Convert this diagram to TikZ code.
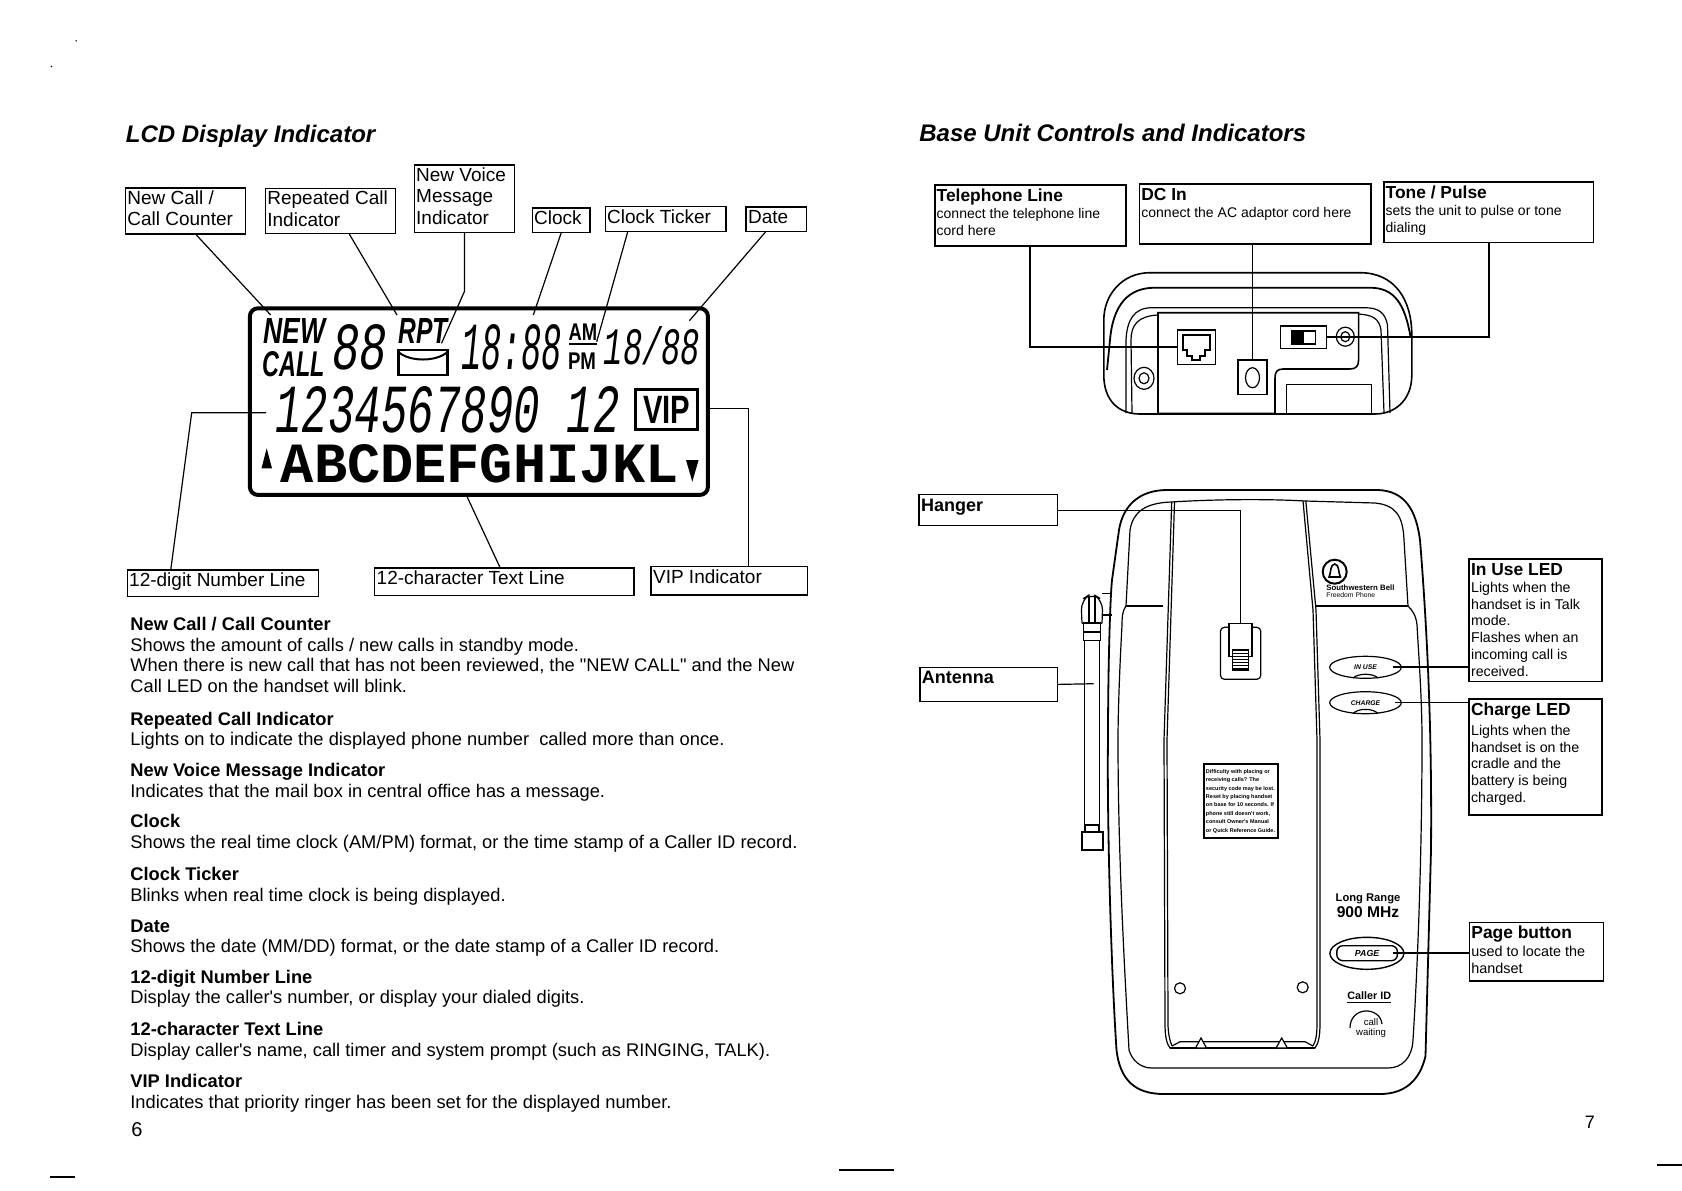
\documentclass[tikz,border=0pt]{standalone}
\usepackage{fontspec}
\setmainfont{Liberation Sans}[Ligatures=TeXOff]
\setmonofont{Liberation Mono}
\usetikzlibrary{shapes.geometric}

\newcommand{\bodyfont}{\fontsize{9.15}{10.3}\selectfont}
\newcommand{\labelfont}{\fontsize{9.5}{10.7}\selectfont}
\newcommand{\headfont}{\fontsize{8.7}{10}\selectfont\bfseries}
\newcommand{\notefont}{\fontsize{7}{8.6}\selectfont}
% text box of given size in reference pixels, text at the top
\newcommand{\boxtxt}[3]{\parbox[t][\dimexpr #2pt/2\relax][t]{\dimexpr #1pt/2\relax}{\raggedright\leftskip=1pt\vrule width 0pt height 8.2pt\relax #3}}
\newcommand{\lcdtxt}[3]{\resizebox{#1pt}{#2pt}{#3}}

\tikzset{
  labelbox/.style={draw, line width=0.7pt, inner sep=0pt, anchor=north west, font=\labelfont},
  notebox/.style={draw, line width=0.8pt, inner sep=0pt, anchor=north west, font=\notefont},
  sectext/.style={inner sep=0pt, anchor=north west, align=left, font=\bodyfont},
  lcdglyph/.style={inner sep=0pt},
  wire/.style={line width=0.6pt},
  heavywire/.style={line width=1pt},
  unitline/.style={line width=0.6pt},
  oval/.style={ellipse, draw, line width=0.6pt, inner sep=0pt, minimum width=35.8pt, minimum height=11pt, font=\fontsize{3.4}{4}\selectfont\bfseries\itshape}
}

\begin{document}
\begin{tikzpicture}[x=0.5pt,y=-0.5pt]
\useasboundingbox (0,0) rectangle (1682,1190);

% Page titles
\node[inner sep=0pt, anchor=west, font=\fontsize{12}{14}\selectfont\bfseries\itshape] (lcdtitle) at (125.5,136) {LCD Display Indicator};
\node[inner sep=0pt, anchor=west, font=\fontsize{12}{14}\selectfont\bfseries\itshape] (basetitle) at (919,133) {Base Unit Controls and Indicators};

% LCD panel
\node[draw, line width=2pt, rounded corners=4pt, minimum width=229pt, minimum height=93.3pt] (lcd) at (478.9,401.6) {};
\node[lcdglyph] (lcdnew) at (294.8,330.8) {\lcdtxt{31}{12.5}{\bfseries\itshape NEW}};
\node[lcdglyph] (lcdcall) at (293.6,364.2) {\lcdtxt{31.2}{12.5}{\bfseries\itshape CALL}};
\node[lcdglyph] (lcdcount) at (360,347.5) {\lcdtxt{27.5}{22.5}{\ttfamily\itshape 88}};
\node[lcdglyph] (lcdrpt) at (423,330.8) {\lcdtxt{24.6}{12.5}{\bfseries\itshape RPT}};
\node[lcdglyph] (lcdtime) at (511.7,347.5) {\lcdtxt{50.5}{22.5}{\ttfamily\itshape 18:88}};
\node[lcdglyph] (lcdam) at (583,331.7) {\lcdtxt{14.3}{8.3}{\bfseries AM}};
\node[lcdglyph] (lcdpm) at (582,361.5) {\lcdtxt{14}{8.3}{\bfseries PM}};
\node[lcdglyph] (lcddate) at (652,346) {\lcdtxt{48.2}{19}{\ttfamily\itshape 18/88}};
\node[lcdglyph] (lcdnum) at (447.5,410) {\lcdtxt{172}{23}{\ttfamily\itshape 1234567890 12}};
\node[lcdglyph] (lcdchars) at (480,464) {\lcdtxt{199}{19}{\ttfamily\bfseries ABCDEFGHIJKL}};
\node[draw, line width=1.3pt, minimum width=31pt, minimum height=20pt, inner sep=0pt] (lcdvip) at (666.7,409.7) {\lcdtxt{23.6}{13.6}{\bfseries VIP}};
\draw[line width=1.2pt] (569,344) -- (597,344);
\fill (261.5,468.3) -- (266.7,448.3) -- (272,468.3) -- cycle;
\fill (686,460) -- (698.6,460) -- (692.3,481.7) -- cycle;
% envelope
\draw[line width=1.2pt] (398.3,350) rectangle (447.5,375);
\draw[line width=1pt] (398.3,352) .. controls (410,362) and (436,362) .. (447.5,352);

% LCD labels
\node[labelbox] (newcall) at (124.7,187.3) {\boxtxt{120.3}{46}{New Call /\\Call Counter}};
\node[labelbox] (repeated) at (264.7,187.7) {\boxtxt{130.3}{45}{Repeated Call\\Indicator}};
\node[labelbox] (voice) at (413.5,164.3) {\boxtxt{100.5}{67.4}{New Voice\\Message\\Indicator}};
\node[labelbox] (clock) at (531.5,207.3) {\boxtxt{57.8}{24.4}{Clock}};
\node[labelbox] (ticker) at (604.5,206) {\boxtxt{120.7}{24.7}{Clock Ticker}};
\node[labelbox] (date) at (745.4,206.3) {\boxtxt{60.2}{24.4}{Date}};
\node[labelbox] (digitline) at (126.5,569.3) {\boxtxt{191}{26.4}{12-digit Number Line}};
\node[labelbox] (charline) at (374,567.3) {\boxtxt{259.4}{27.7}{12-character Text Line}};
\node[labelbox] (vipline) at (650.4,566) {\boxtxt{156.1}{28.3}{VIP Indicator}};

% free ends on the LCD
\coordinate (newcallpt) at (270.7,315);
\coordinate (repeatedpt) at (397,315);
\coordinate (voicept) at (441.5,343.3);
\coordinate (clockpt) at (533.3,315);
\coordinate (tickerpt) at (596.7,341.7);
\coordinate (datept) at (689.4,320.7);
\coordinate (digitpt) at (266,412.7);
\coordinate (vippt) at (709.2,408.7);

\draw[wire] (newcall.-66) -- (newcallpt);
\draw[wire] (repeated.-51.3) -- (repeatedpt);
\draw[wire] (voice.south) -- ++(0,58.3) -- (voicept);
\draw[wire] (clock.south) -- (clockpt);
\draw[wire] (ticker.-161.1) -- (tickerpt);
\draw[wire] (date.-130.3) -- (datept);
\draw[wire] (digitline.165.8) -- (191.7,412.7) -- (digitpt);
\draw[wire] (charline.107.6) -- (lcd.-97.1);
\draw[wire] (vipline.38) |- (vippt);

% Description text
\node[sectext] (secnewcall) at (130,617) {\textbf{New Call / Call Counter}\\Shows the amount of calls / new calls in standby mode.\\When there is new call that has not been reviewed, the "NEW CALL" and the New\\Call LED on the handset will blink.};
\node[sectext] (secrepeated) at (130,711.5) {\textbf{Repeated Call Indicator}\\Lights on to indicate the displayed phone number\ \ called more than once.};
\node[sectext] (secvoice) at (130,763) {\textbf{New Voice Message Indicator}\\Indicates that the mail box in central office has a message.};
\node[sectext] (secclock) at (130,814) {\textbf{Clock}\\Shows the real time clock (AM/PM) format, or the time stamp of a Caller ID record.};
\node[sectext] (secticker) at (130,867) {\textbf{Clock Ticker}\\Blinks when real time clock is being displayed.};
\node[sectext] (secdate) at (130,919) {\textbf{Date}\\Shows the date (MM/DD) format, or the date stamp of a Caller ID record.};
\node[sectext] (secdigit) at (130,969.5) {\textbf{12-digit Number Line}\\Display the caller's number, or display your dialed digits.};
\node[sectext] (secchar) at (130,1022) {\textbf{12-character Text Line}\\Display caller's name, call timer and system prompt (such as RINGING, TALK).};
\node[sectext] (secvip) at (130,1074) {\textbf{VIP Indicator}\\Indicates that priority ringer has been set for the displayed number.};
\node[inner sep=0pt, font=\fontsize{10}{12}\selectfont] (pagesix) at (137,1129.3) {6};
\node[inner sep=0pt, font=\fontsize{9}{11}\selectfont] (pageseven) at (1589.8,1122) {7};

% Rear of base
\draw[unitline, line width=0.8pt] (1150,272.7) -- (1360,272.7) .. controls (1395,272.7) and (1411.8,300) .. (1411.8,335) -- (1411.8,375) .. controls (1411.8,400) and (1395,414) .. (1375,414) -- (1140,414) .. controls (1118,414) and (1103.8,400) .. (1103.8,375) -- (1103.8,320) .. controls (1103.8,295) and (1122,272.7) .. (1150,272.7) -- cycle;
\draw[unitline, line width=0.9pt] (1107,370) -- (1110,340) .. controls (1113,305) and (1128,287.7) .. (1155,287.7) -- (1370,287.7) .. controls (1395,287.7) and (1405,305) .. (1410.5,336.7);
\draw[unitline] (1126,413) -- (1126,340) .. controls (1127,320) and (1134,307.7) .. (1152,307.7) -- (1364.5,307.7) .. controls (1378,307.7) and (1385,312) .. (1387.5,325) -- (1390,413);
\draw[unitline] (1132,413) -- (1131,340) .. controls (1131,325) and (1138,316) .. (1158,315);
\draw[unitline] (1358.6,314) .. controls (1372,315) and (1379,318) .. (1381,330) -- (1384,413);
\draw[line width=0.8pt] (1158,312.7) -- (1358.6,312.7) -- (1358.6,360) .. controls (1358.6,366) and (1356,369) .. (1350,369) -- (1283,369) .. controls (1277,369) and (1275,372) .. (1275,378) -- (1275,413.3) -- (1158,413.3) -- cycle;
\draw[unitline] (1286.5,413.3) -- (1286.5,384.3) -- (1371.4,384.3) -- (1371.4,413.3);
\node[draw, line width=0.7pt, minimum width=18.8pt, minimum height=17.4pt, inner sep=0pt] (teljack) at (1196.5,347.3) {};
\draw[line width=0.6pt] (1183,335) -- (1210,335) -- (1210,350) -- (1205,350) -- (1205,356) -- (1200,356) -- (1200,360) -- (1192,360) -- (1192,356) -- (1187,356) -- (1187,350) -- (1183,350) -- cycle;
\node[draw, line width=0.8pt, minimum width=14.7pt, minimum height=17.2pt, inner sep=0pt] (dcjack) at (1252.5,377.2) {};
\draw[unitline] (1252.5,377.7) ellipse (7 and 10);
\node[draw, line width=0.8pt, minimum width=23pt, minimum height=11.3pt, inner sep=0pt] (toneswitch) at (1303.4,337) {};
\draw[unitline] (1292,331) rectangle (1315.4,344);
\fill (1292,331) rectangle (1304,344);
\draw[unitline] (1345.3,336.7) ellipse (9 and 9.5);
\draw[unitline] (1345.3,336.7) ellipse (4.5 and 5);
\draw[unitline] (1144,378.3) ellipse (10 and 11);
\draw[unitline] (1144,378.3) ellipse (5 and 5.5);

% Rear labels
\node[notebox] (telline) at (933.9,184.3) {\boxtxt{191.4}{60.7}{{\headfont Telephone Line}\\connect the telephone line\\cord here}};
\node[notebox] (dcin) at (1138.6,183.3) {\boxtxt{231.4}{60}{{\headfont DC In}\\connect the AC adaptor cord here}};
\node[notebox] (tone) at (1382.9,181) {\boxtxt{209.8}{60.7}{{\headfont Tone / Pulse}\\sets the unit to pulse or tone\\dialing}};
\draw[heavywire] (telline.south) |- (teljack.west);
\draw[wire] (dcin.south -| dcjack) -- (dcjack.north);
\draw[heavywire] (tone.south) |- (toneswitch.east);

% Base unit, top view
\draw[line width=0.9pt] (1167,490) -- (1378,490) .. controls (1405,491) and (1416,510) .. (1420,540) .. controls (1428,640) and (1432,740) .. (1431,850) -- (1425.5,1056) .. controls (1420,1080) and (1405,1094) .. (1380,1094) -- (1164,1094) .. controls (1135,1094) and (1120,1080) .. (1116.5,1050) .. controls (1110,950) and (1107,800) .. (1108,740) .. controls (1108,670) and (1110,600) .. (1112,580) -- (1119,530) .. controls (1123,505) and (1140,490) .. (1167,490) -- cycle;
\draw[unitline] (1126,606) -- (1130,530) .. controls (1133,512) and (1145,503) .. (1171,502) .. controls (1220,499) and (1270,499) .. (1305,501) -- (1375,503) .. controls (1395,505) and (1403,515) .. (1404,540) -- (1408,606);
\draw[unitline] (1126,606) -- (1163,606);
\draw[unitline] (1316,606) -- (1408,606);
\draw[unitline] (1126,606) .. controls (1123,610) and (1122,615) .. (1122,625) .. controls (1119,680) and (1118,720) .. (1118,740) .. controls (1118,850) and (1124,960) .. (1129,1050) .. controls (1132,1060) and (1140,1068) .. (1152,1068) -- (1388,1068) .. controls (1402,1068) and (1412,1058) .. (1413,1040) .. controls (1418,960) and (1422,850) .. (1422,740) .. controls (1422,700) and (1419,660) .. (1417,625) .. controls (1416,615) and (1412,610) .. (1408,606);
% handset recess, double line
\draw[unitline] (1171.7,502) -- (1164,740) -- (1165,1023) .. controls (1165,1038) and (1167,1044) .. (1170,1048) -- (1315,1048) .. controls (1318,1044) and (1320,1038) .. (1320,1023) -- (1320,740) -- (1316,610) -- (1305.8,501);
\draw[unitline] (1174.5,502) -- (1167,740) -- (1168,1023) .. controls (1168,1034) and (1170,1041) .. (1172,1046);
\draw[unitline] (1313,1046) .. controls (1316,1041) and (1317,1034) .. (1317,1023) -- (1317,740) -- (1313,610) -- (1303,501);
\draw[line width=1.2pt] (1170,1048) -- (1315,1048);
\draw[unitline] (1172,1046) -- (1180,1041.7) -- (1305,1041.7) -- (1313,1046);
\fill[white, draw=black, line width=0.6pt] (1195.5,1048) -- (1201,1038) -- (1206.5,1048) -- cycle;
\fill[white, draw=black, line width=0.6pt] (1276,1048) -- (1281.7,1038) -- (1287.4,1048) -- cycle;
\draw[unitline] (1180,988.3) circle (5.5);
\draw[unitline] (1302.7,987.3) circle (5.5);

% hanger clip
\draw[unitline, rounded corners=2pt] (1220.4,627.3) rectangle (1260.8,679.3);
\node[draw, fill=white, line width=0.7pt, minimum width=11.5pt, minimum height=16.7pt, inner sep=0pt] (clip) at (1240.5,640) {};
\draw[unitline] (1232.8,650) rectangle (1248.8,670);
\foreach \yy in {653,656,659,662,665,668} {
  \draw[line width=0.4pt] (1232.8,\yy) -- (1248.8,\yy);
}

% antenna
\draw[unitline, rounded corners=5pt] (1082,623.3) -- (1081,600) -- (1091.5,593.3) -- (1102.8,600) -- (1102,623.3);
\draw[unitline] (1082,623.3) -- (1102,623.3);
\draw[unitline] (1089,597) -- (1089,623);
\draw[unitline] (1095,597) -- (1095,623);
\draw[unitline] (1102,593.3) -- (1112,593.3);
\draw[unitline] (1102,615) -- (1112,615);
\draw[unitline] (1083.6,623) rectangle (1100.5,640.7);
\draw[line width=1pt] (1083.6,632) -- (1100.5,632);
\draw[unitline] (1084.4,640.7) -- (1084.4,825) -- (1099.5,825) -- (1099.5,640.7);
\draw[unitline] (1085,825) rectangle (1099,831.7);
\draw[line width=0.8pt] (1081.8,831.7) rectangle (1102.8,850);
\coordinate (antpt) at (1093.7,683.7);

% bell logo
\draw[line width=1pt] (1334.7,571.7) circle (12);
\draw[line width=0.8pt] (1329,577) .. controls (1331,574) and (1330,564) .. (1334.7,564) .. controls (1339.4,564) and (1338.4,574) .. (1340.4,577) -- cycle;
\node[inner sep=0pt, anchor=west, font=\fontsize{3.9}{4.5}\selectfont\bfseries] (logoline) at (1326,587.7) {Southwestern Bell};
\node[inner sep=0pt, anchor=west, font=\fontsize{3.4}{4}\selectfont] (logosub) at (1326,595.3) {Freedom Phone};

% indicators and printing
\node[oval] (inuse) at (1365.5,667.3) {IN USE};
\node[oval] (charge) at (1365.5,702.7) {CHARGE};
\draw[unitline] (1353,678) .. controls (1358,673) and (1373,673) .. (1378,678);
\draw[unitline] (1353,713.5) .. controls (1358,708) and (1373,708) .. (1378,713.5);
\node[draw, line width=1pt, minimum width=37pt, minimum height=37.2pt, inner sep=0pt, align=left, font=\fontsize{2.75}{4.2}\selectfont\bfseries] (sticker) at (1240.5,801.2) {Difficulty with placing or\\receiving calls? The\\security code may be lost.\\Reset by placing handset\\on base for 10 seconds. If\\phone still doesn't work,\\consult Owner's Manual\\or Quick Reference Guide.};
\node[inner sep=0pt, font=\fontsize{5.6}{6.5}\selectfont\bfseries] (longrange) at (1368,898.5) {Long Range};
\node[inner sep=0pt, font=\fontsize{7.8}{9}\selectfont\bfseries] (mhz) at (1368,911.8) {900 MHz};
\node[ellipse, draw, line width=0.7pt, minimum width=37pt, minimum height=16pt, inner sep=0pt] (page) at (1366.9,953.3) {};
\node[draw, line width=0.7pt, rounded corners=3pt, minimum width=30.3pt, minimum height=7.5pt, inner sep=0pt, font=\fontsize{4.4}{5}\selectfont\bfseries\itshape] (pagekey) at (1367.1,953.2) {PAGE};
\node[inner sep=0pt, font=\fontsize{5.4}{6}\selectfont\bfseries] (callerid) at (1369.3,998) {\underline{Caller ID}};
\node[inner sep=0pt, align=center, font=\fontsize{4.8}{5.2}\selectfont] (callwait) at (1371,1028) {call\\waiting};
\draw[unitline] (1350,1028) .. controls (1350,1006) and (1380,1006) .. (1382,1024);

% Base labels
\node[labelbox, font=\headfont] (hanger) at (918.3,494) {\boxtxt{138.2}{31}{{\fontsize{9}{11}\selectfont Hanger}}};
\node[labelbox, font=\headfont] (antenna) at (919.2,666.7) {\boxtxt{137.3}{34}{{\fontsize{9}{11}\selectfont Antenna}}};
\node[notebox, font=\fontsize{7.1}{8.4}\selectfont] (inuselbl) at (1468.3,558.3) {\boxtxt{132.7}{122.4}{{\headfont In Use LED}\\Lights when the\\handset is in Talk\\mode.\\Flashes when an\\incoming call is\\received.}};
\node[notebox, font=\fontsize{7.1}{8.4}\selectfont] (chargelbl) at (1468.3,698.3) {\boxtxt{132.7}{115.7}{{\headfont Charge LED}\\[1.5pt]Lights when the\\handset is on the\\cradle and the\\battery is being\\charged.}};
\node[notebox, font=\fontsize{7.2}{8.7}\selectfont] (pagelbl) at (1468.6,921.7) {\boxtxt{134}{58.3}{{\headfont Page button}\\used to locate the\\handset}};

\draw[wire] (hanger.east) -| (clip.north);
\draw[wire] (antenna.east) -- (antpt);
\draw[heavywire, shorten <=-4.5pt] (inuse.east) -- (inuse.east -| inuselbl.west);
\draw[wire, shorten <=-3.5pt] (charge.east) -- (charge.east -| chargelbl.west);
\draw[heavywire, shorten <=-6pt] (page.east) -- (page.east -| pagelbl.west);

% Page marks
\draw[line width=0.8pt] (50,1176.7) -- (75,1176.7);
\draw[line width=0.8pt] (839,1170) -- (894,1170);
\draw[line width=0.8pt] (1657,1165) -- (1682,1165);
\fill (76.2,40.8) circle (0.8);
\fill (51.5,66.5) circle (0.8);
\end{tikzpicture}
\end{document}
